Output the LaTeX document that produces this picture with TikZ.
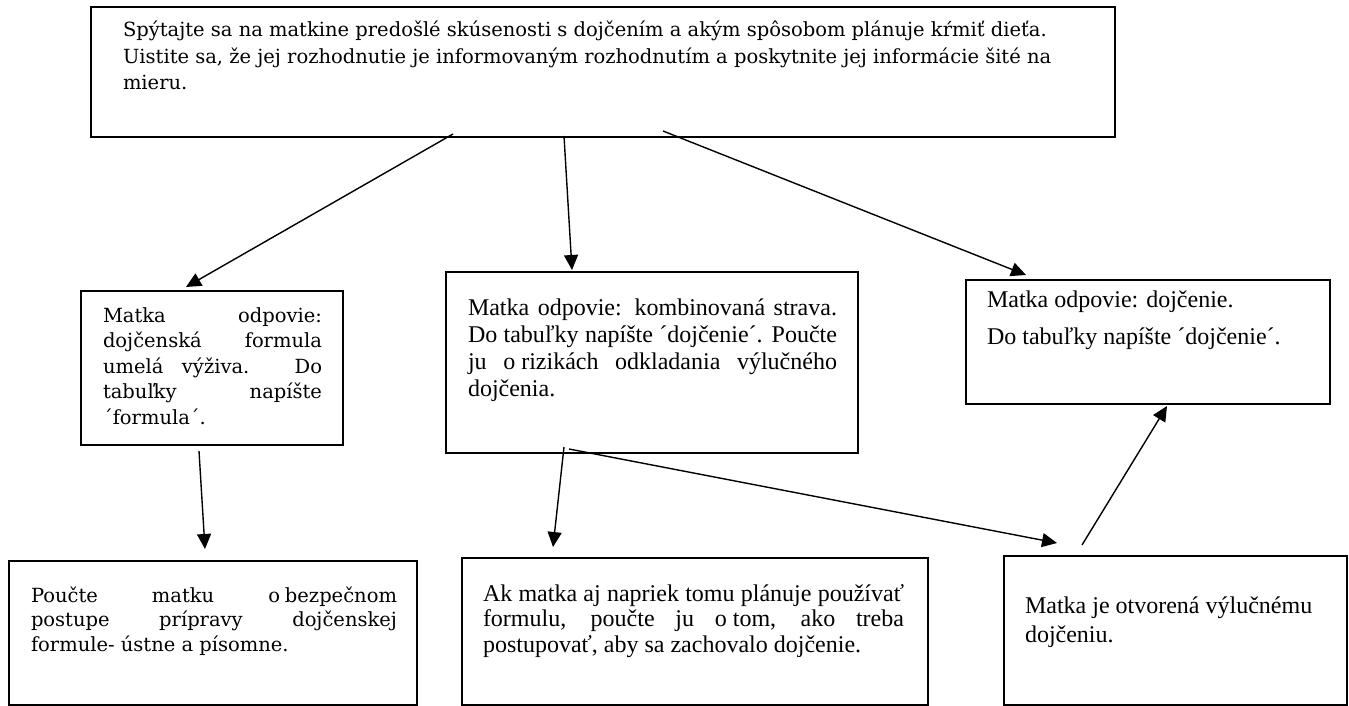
\documentclass[tikz,border=0pt]{standalone}
\usepackage{fontspec}
\setmainfont{Liberation Serif}
\newfontfamily\cambfont{DejaVu Serif}
\usetikzlibrary{arrows.meta}
\setlength{\parindent}{0pt}
\newcommand{\jl}[1]{\makebox[\linewidth][s]{#1}\par}
\newcommand{\nl}[1]{\makebox[\linewidth][l]{#1}\par}
\newcommand{\fsp}{\hspace{0.25em}}
\tikzset{
  box/.style={draw, line width=2pt, inner sep=0pt, outer sep=0pt, anchor=north west},
  txt/.style={inner sep=0pt, outer sep=0pt, anchor=base west},
  arr/.style={line width=1.4pt, -{Triangle[length=15pt,width=14pt]}},
  tnr/.style={font=\fontsize{24}{27}\selectfont},
  cmb/.style={font=\cambfont\fontsize{19.5}{25.5}\selectfont},
}
\begin{document}
\begin{tikzpicture}[x=1pt,y=-1pt]
\useasboundingbox (0,0) rectangle (1349,706);
% boxes
\node[box, minimum width=1024pt, minimum height=130pt] (top) at (91,7) {};
\node[box, minimum width=262pt, minimum height=154pt] (b1) at (81,291) {};
\node[box, minimum width=412pt, minimum height=181pt] (b2) at (446,272) {};
\node[box, minimum width=364pt, minimum height=124pt] (b3) at (966,280) {};
\node[box, minimum width=408pt, minimum height=144pt] (c1) at (9,561) {};
\node[box, minimum width=466pt, minimum height=147pt] (c2) at (462,558) {};
\node[box, minimum width=343pt, minimum height=149pt] (c3) at (1004,556) {};
% texts
\node[txt, font=\cambfont\fontsize{19.5}{26.5}\selectfont] (topt) at (123,37) {\parbox[t]{990pt}{%
\nl{Spýtajte sa na matkine predošlé skúsenosti s dojčením a akým spôsobom plánuje kŕmiť dieťa.}%
\nl{Uistite sa, že jej rozhodnutie je informovaným rozhodnutím a poskytnite jej informácie šité na}%
\nl{mieru.}}};
\node[txt, cmb] (b1t) at (103,322) {\parbox[t]{219pt}{%
\jl{Matka odpovie:}\jl{dojčenská formula}\jl{umelá výživa. Do}\jl{tabuľky napíšte}\nl{´formula´.}}};
\node[txt, tnr] (b2t) at (468,315) {\parbox[t]{369pt}{%
\jl{Matka odpovie: kombinovaná strava.}\jl{Do tabuľky napíšte ´dojčenie´. Poučte}\jl{ju o\fsp rizikách odkladania výlučného}\nl{dojčenia.}}};
\node[txt, tnr] (b3t) at (987,307) {\parbox[t]{330pt}{%
\nl{Matka odpovie: dojčenie.}\vspace{10pt}\nl{Do tabuľky napíšte ´dojčenie´.}}};
\node[txt, font=\cambfont\fontsize{19.5}{24.5}\selectfont] (c1t) at (31,602) {\parbox[t]{366pt}{%
\jl{Poučte matku o\fsp bezpečnom}\jl{postupe prípravy dojčenskej}\nl{formule- ústne a písomne.}}};
\node[txt, font=\fontsize{24}{25.5}\selectfont] (c2t) at (483,601) {\parbox[t]{421pt}{%
\jl{Ak matka aj napriek tomu plánuje používať}\jl{formulu, poučte ju o\fsp tom, ako treba}\nl{postupovať, aby sa zachovalo dojčenie.}}};
\node[txt, font=\fontsize{24}{29}\selectfont] (c3t) at (1025,613) {\parbox[t]{310pt}{%
\nl{Matka je otvorená výlučnému}\nl{dojčeniu.}}};
% connectors
\draw[arr] ([xshift=362pt,yshift=3pt]top.south west) -- ([xshift=105pt,yshift=4pt]b1.north west);
\draw[arr] ([xshift=473pt,yshift=1pt]top.south west) -- ([xshift=126pt,yshift=2pt]b2.north west);
\draw[arr] ([xshift=572pt,yshift=6pt]top.south west) -- ([xshift=60pt,yshift=5pt]b3.north west);
\draw[arr] ([xshift=118pt,yshift=-6pt]b1.south west) -- ([xshift=196pt,yshift=12pt]c1.north west);
\draw[arr] ([xshift=118pt,yshift=6pt]b2.south west) -- ([xshift=91pt,yshift=11pt]c2.north west);
\draw[arr] ([xshift=123pt,yshift=4pt]b2.south west) -- ([xshift=53pt,yshift=13pt]c3.north west);
\draw[arr] ([xshift=78pt,yshift=11pt]c3.north west) -- ([xshift=201pt,yshift=-2pt]b3.south west);
\end{tikzpicture}
\end{document}
